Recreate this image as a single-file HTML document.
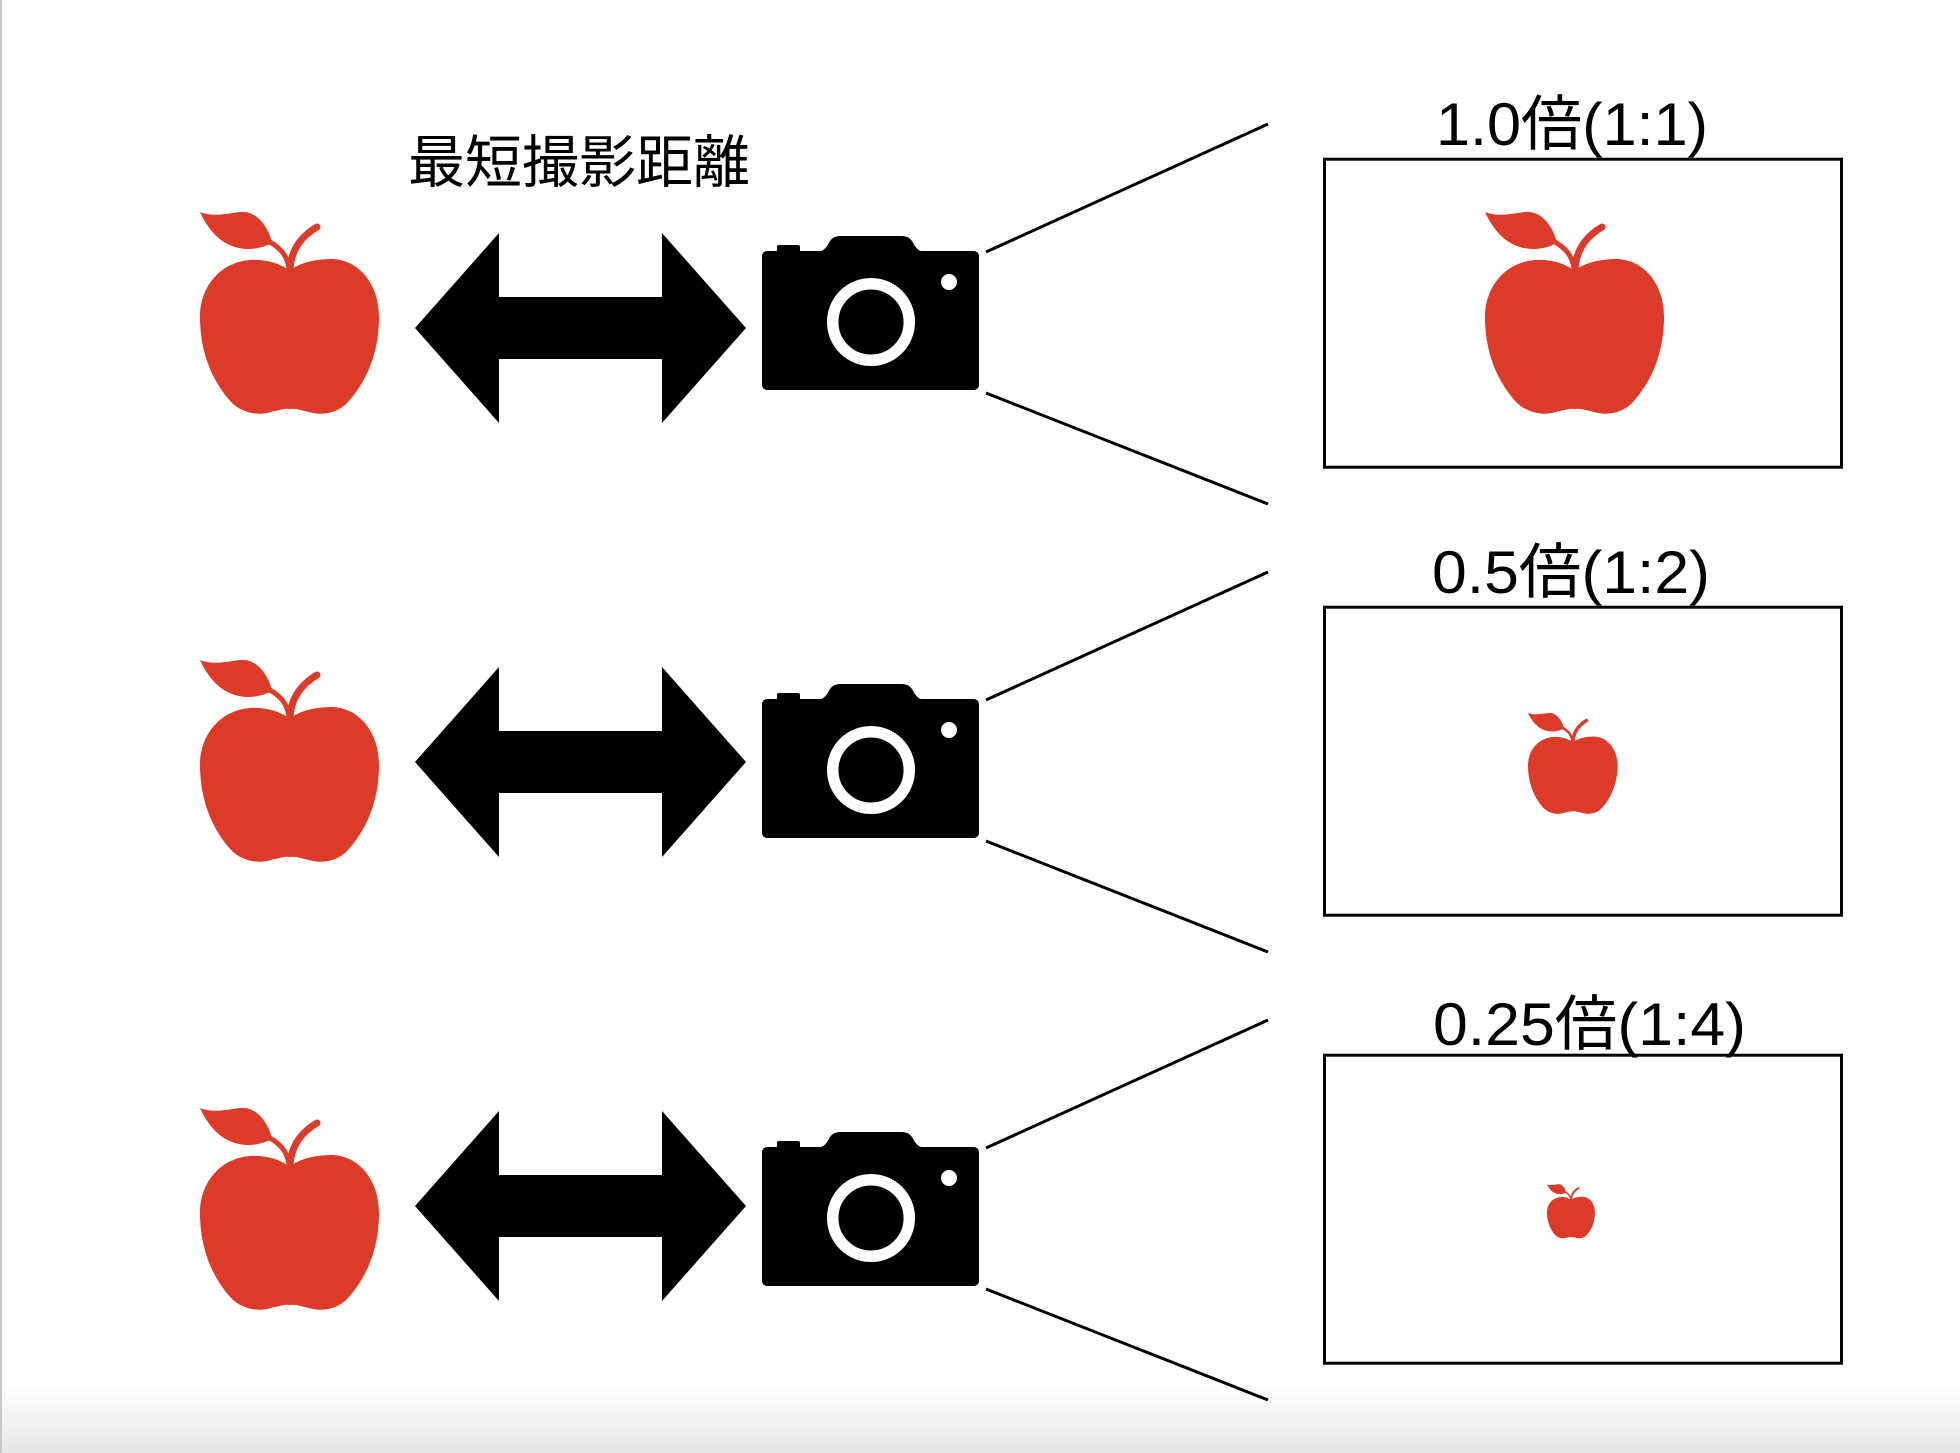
<!DOCTYPE html>
<html>
<head>
<meta charset="utf-8">
<style>
  html, body { margin:0; padding:0; background:#fff; }
  body { width:1960px; height:1453px; overflow:hidden; position:relative; }
  svg { position:absolute; left:0; top:0; }
  text { font-family: "Liberation Sans", "Noto Sans CJK JP", sans-serif; fill:#000; }
</style>
</head>
<body>
<svg width="1960" height="1453" viewBox="0 0 1960 1453" xmlns="http://www.w3.org/2000/svg">
  <defs>
    <linearGradient id="bot" x1="0" y1="0" x2="0" y2="1">
      <stop offset="0" stop-color="#ffffff"/>
      <stop offset="1" stop-color="#e6e6e6"/>
    </linearGradient>
    <g id="apple">
      <path fill="#db3b28" d="M100,71 C90,63 75,59 60,60 C32,62 10,85 10,117 C10,152 22,181 41,202 C52,213 68,216 81,212 C89,210 96,208 100,209 C104,208 111,210 119,212 C132,216 148,213 158,202 C177,181 189,152 189,117 C189,85 170,60 142,59 C125,59 108,63 100,71 Z"/>
      <path fill="#db3b28" d="M10,12 C22,17 35,14 50,12 C65,10 78,25 82,43 C72,48 58,52 42,46 C26,40 16,25 10,12 Z"/>
      <path fill="none" stroke="#db3b28" stroke-width="7" stroke-linecap="round" d="M100,72 C100,52 110,37 127,27"/>
      <path fill="none" stroke="#db3b28" stroke-width="5" d="M80,42 C90,48 97,55 99,68"/>
    </g>
    <polygon id="arrow" fill="#000" points="415,328 499,233 499,297 662,297 662,233 746,328 662,423 662,359 499,359 499,423"/>
    <g id="row">
      <use href="#apple" transform="translate(190,200)"/>
      <!-- camera -->
      <rect x="762" y="251" width="217" height="139" rx="5" fill="#000"/>
      <path fill="#000" d="M815,252 C825,252 827,246 830,241 C833,237 836,236 842,236 L900,236 C906,236 909,237 912,241 C915,246 917,252 927,252 Z"/>
      <rect x="777" y="245" width="23" height="9" rx="2" fill="#000"/>
      <circle cx="871" cy="322" r="38.3" fill="none" stroke="#fff" stroke-width="11.5"/>
      <circle cx="949" cy="282" r="8" fill="#fff"/>
      <!-- connector lines -->
      <line x1="986" y1="252" x2="1268" y2="124" stroke="#000" stroke-width="3"/>
      <line x1="986" y1="393" x2="1268" y2="504" stroke="#000" stroke-width="3"/>
      <!-- frame -->
      <rect x="1324.5" y="159.2" width="517" height="308" fill="none" stroke="#000" stroke-width="3"/>
    </g>
  </defs>

  <!-- background details -->
  <rect x="0" y="1385" width="1960" height="68" fill="url(#bot)"/>
  <rect x="0" y="0" width="2" height="1453" fill="#c8c8c8"/>

  <!-- title -->
  <text x="408" y="182" font-size="57">最短撮影距離</text>

  <!-- row 1 -->
  <use href="#row"/>
  <use href="#arrow"/>
  <use href="#apple" transform="translate(1475,200)"/>
  <text x="1436" y="145" font-size="60" textLength="272" lengthAdjust="spacingAndGlyphs">1.0倍(1:1)</text>

  <!-- row 2 -->
  <use href="#row" transform="translate(0,448)"/>
  <use href="#arrow" transform="translate(0,434)"/>
  <use href="#apple" transform="translate(1523,707) scale(0.5)"/>
  <text x="1432" y="593" font-size="60" textLength="278" lengthAdjust="spacingAndGlyphs">0.5倍(1:2)</text>

  <!-- row 3 -->
  <use href="#row" transform="translate(0,896)"/>
  <use href="#arrow" transform="translate(0,878)"/>
  <use href="#apple" transform="translate(1544.3,1181) scale(0.268)"/>
  <text x="1433" y="1045" font-size="60" textLength="313" lengthAdjust="spacingAndGlyphs">0.25倍(1:4)</text>
</svg>
</body>
</html>
